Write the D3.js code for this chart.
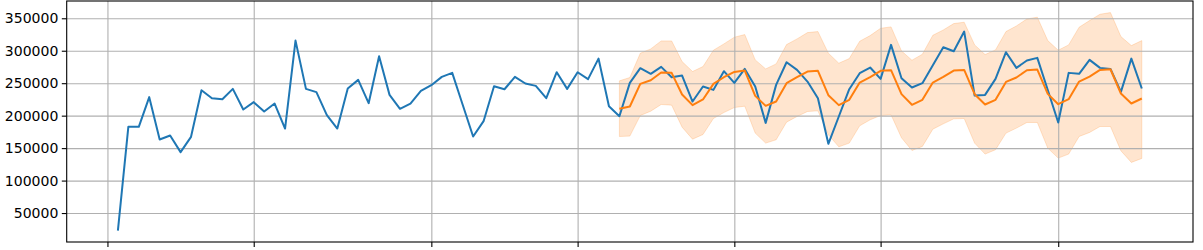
<!DOCTYPE html>
<html>
<head>
<meta charset="utf-8">
<script src="https://cdn.jsdelivr.net/npm/d3@7"></script>
<style>
  html, body { margin: 0; padding: 0; background: #fff; overflow: hidden; }
  svg { display: block; }
  .tick text { font-family: "DejaVu Sans", sans-serif; }
</style>
</head>
<body>
<div id="chart"></div>
<script>
// daily observations, starting 2020-01-02
const startDate = "2020-01-02";
const actual = [
  22800, 182800, 182800, 228500, 163300, 169500, 143800, 167400, 239200, 226900,
  225400, 241300, 209500, 220800, 206400, 218700, 180200, 315600, 241300, 236200,
  200800, 180200, 241800, 255100, 219200, 291500, 232000, 210500, 218700, 238200,
  246900, 259700, 265900, 216700, 167900, 191500, 245300, 240700, 259700, 249500,
  245900, 226900, 266900, 241300, 266900, 256200, 287900, 214600, 199200, 250500,
  273100, 264400, 275100, 259200, 261800, 221800, 244900, 239700, 268500, 250500,
  272000, 244900, 188900, 247400, 282300, 270500, 252500, 226900, 156700, 198700,
  240700, 265400, 274100, 256700, 309000, 257700, 243300, 250000, 277700, 305400,
  299200, 329500, 231000, 232000, 256700, 297700, 273600, 284900, 289000, 239600,
  189500, 265900, 264400, 285900, 273600, 272000, 236700, 287900, 241800
];
// forecast starts at day index 48
const forecastStart = 48;
const forecast = [
  210500, 214100, 249000, 254600, 266400, 265900, 232500, 216200, 224900, 249000,
  259200, 267400, 269500, 230500, 215100, 221800, 250000, 259200, 268000, 269000,
  231500, 216200, 224400, 251000, 259200, 269000, 270000, 233100, 216700, 224400,
  251000, 259700, 269500, 270500, 233100, 217200, 224400, 252000, 258700, 270000,
  271000, 233600, 217700, 225400, 252500, 260200, 270500, 271500, 234100, 218700,
  226400
];
const upper = [
  253600, 258700, 296200, 302800, 315100, 315100, 283300, 268000, 275600, 300800,
  310500, 320800, 324900, 285900, 272000, 279700, 309500, 318200, 327900, 329500,
  296200, 280800, 287900, 314600, 323300, 334600, 336700, 299700, 285400, 294600,
  323800, 332000, 341800, 343900, 309000, 294100, 301300, 329500, 338200, 348900,
  351600, 315600, 300800, 309000, 336200, 346400, 356200, 358700, 321800, 307900,
  315600
];
const lower = [
  167900, 168500, 200200, 206900, 217200, 216200, 182300, 163800, 171000, 195600,
  204800, 212500, 214600, 173100, 157700, 162800, 190000, 198700, 206400, 207400,
  170500, 152000, 157700, 184400, 193600, 200200, 201300, 165900, 146400, 152600,
  179200, 187400, 195100, 195600, 157700, 140800, 147500, 173100, 180800, 189500,
  189500, 150000, 134600, 140800, 167900, 174100, 183300, 183300, 145900, 128000,
  134100
];
const yTicks = [50000, 100000, 150000, 200000, 250000, 300000, 350000];
// x tick positions (their labels fall below the visible area)
const xTicks = ["2020-01-01", "2020-01-15", "2020-02-01", "2020-02-15", "2020-03-01", "2020-03-15", "2020-04-01"];

const width = 1203, height = 250;
const margin = { top: 1, right: 10, bottom: 8, left: 66.7 };
const day = 864e5;
const parse = d3.utcParse("%Y-%m-%d");
const t0 = parse(startDate);
const dateAt = (i) => new Date(t0.getTime() + i * day);

const actualPts = actual.map((v, i) => ({ date: dateAt(i), v }));
const fcPts = forecast.map((v, i) => ({ date: dateAt(forecastStart + i), v, hi: upper[i], lo: lower[i] }));

const lastDate = dateAt(actual.length - 1);
const pad = (actual.length - 1) * 0.05 * day;

const x = d3.scaleUtc()
  .domain([new Date(t0.getTime() - pad), new Date(lastDate.getTime() + pad)])
  .range([margin.left, width - margin.right]);
const y = d3.scaleLinear()
  .domain([5400, 376600])
  .range([height - margin.bottom, margin.top]);

const svg = d3.select("#chart").append("svg")
  .attr("width", width)
  .attr("height", height);

const innerH = height - margin.bottom - margin.top;
const innerW = width - margin.right - margin.left;

// confidence band
svg.append("path")
  .datum(fcPts)
  .attr("fill", "#ff7f0e")
  .attr("fill-opacity", 0.2)
  .attr("stroke", "#ff7f0e")
  .attr("stroke-opacity", 0.2)
  .attr("stroke-width", 1)
  .attr("d", d3.area().x((d) => x(d.date)).y0((d) => y(d.lo)).y1((d) => y(d.hi)));

// grid
svg.append("g")
  .attr("transform", `translate(0,${height - margin.bottom})`)
  .call(d3.axisBottom(x).tickValues(xTicks.map(parse)).tickSize(-innerH).tickFormat(""))
  .call((g) => g.select(".domain").remove())
  .call((g) => g.selectAll("line").attr("stroke", "#b0b0b0").attr("stroke-width", 1.1));
svg.append("g")
  .attr("transform", `translate(${margin.left},0)`)
  .call(d3.axisLeft(y).tickValues(yTicks).tickSize(-innerW).tickFormat(""))
  .call((g) => g.select(".domain").remove())
  .call((g) => g.selectAll("line").attr("stroke", "#b0b0b0").attr("stroke-width", 1.1));

const line = d3.line().x((d) => x(d.date)).y((d) => y(d.v));
svg.append("path")
  .datum(actualPts)
  .attr("fill", "none")
  .attr("stroke", "#1f77b4")
  .attr("stroke-width", 2)
  .attr("stroke-linejoin", "round")
  .attr("d", line);
svg.append("path")
  .datum(fcPts)
  .attr("fill", "none")
  .attr("stroke", "#ff7f0e")
  .attr("stroke-width", 2)
  .attr("stroke-linejoin", "round")
  .attr("d", line);

// frame
svg.append("rect")
  .attr("x", margin.left)
  .attr("y", margin.top)
  .attr("width", innerW)
  .attr("height", innerH)
  .attr("fill", "none")
  .attr("stroke", "#000")
  .attr("stroke-width", 1.1);

// axes
const xAxis = svg.append("g")
  .attr("transform", `translate(0,${height - margin.bottom})`)
  .call(d3.axisBottom(x).tickValues(xTicks.map(parse)).tickSize(4.9).tickFormat(""));
const yAxis = svg.append("g")
  .attr("transform", `translate(${margin.left},0)`)
  .call(d3.axisLeft(y).tickValues(yTicks).tickSize(4.9).tickPadding(3.5).tickFormat(d3.format("d")));
[xAxis, yAxis].forEach((g) => {
  g.select(".domain").remove();
  g.selectAll(".tick line").attr("stroke", "#000").attr("stroke-width", 1.1);
  g.selectAll(".tick text").attr("fill", "#000").attr("font-size", 14);
});
</script>
</body>
</html>
